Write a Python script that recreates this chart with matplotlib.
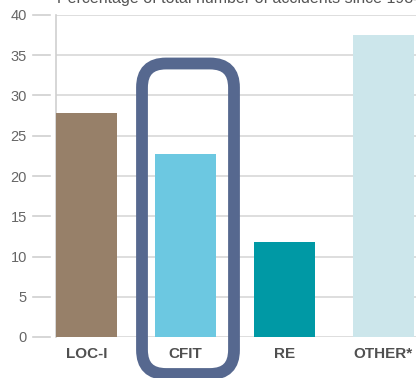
import matplotlib
matplotlib.use("Agg")
import matplotlib.pyplot as plt
from matplotlib.patches import FancyBboxPatch
import matplotlib.transforms as mtransforms

plt.rcParams['font.family'] = ['Liberation Sans', 'DejaVu Sans']

# data
categories = ["LOC-I", "CFIT", "RE", "OTHER*"]
values = [27.8, 22.7, 11.8, 37.5]
colors = ["#978069", "#6cc8e1", "#0099a5", "#cce6eb"]
yticks = [0, 5, 10, 15, 20, 25, 30, 35, 40]
title = "Percentage of total number of accidents since 1984"

W, H = 416, 378
fig = plt.figure(figsize=(W / 100, H / 100), dpi=100)
ax = fig.add_axes([56 / W, 41 / H, (W - 56) / W, 322 / H])

x = range(len(categories))
ax.bar(x, values, width=0.62, color=colors, zorder=3)
ax.set_xlim(-0.31, 3.33)
ax.set_ylim(0, 40)

# grid + spines
ax.set_yticks(yticks)
ax.yaxis.grid(True, color="#d8d8d8", linewidth=1.2, zorder=0)
for s in ["top", "right", "bottom"]:
    ax.spines[s].set_visible(False)
ax.spines["left"].set_color("#cfcfcf")
ax.spines["left"].set_linewidth(1.2)

ax.tick_params(axis="y", length=0, pad=21, labelsize=10.5, labelcolor="#666666")
ax.set_xticks(list(x))
ax.set_xticklabels(categories, fontsize=11, fontweight="bold", color="#505050")
ax.tick_params(axis="x", length=0, pad=7)

# little tick dashes left of the spine
trans = mtransforms.blended_transform_factory(
    mtransforms.Affine2D().translate(56, 0) + mtransforms.IdentityTransform(), ax.transData)
for t in yticks:
    ax.plot([-23, -6], [t, t], transform=trans, color="#d0d0d0", lw=1.2, clip_on=False)

# title cut off at the top, as in the source picture
fig.text(57 / W, (H - 3) / H, title, fontsize=11.5, color="#555555", ha="left", va="baseline")

# rounded highlight box round CFIT
box = FancyBboxPatch((1.52, 0.14), 0.72, 2.905,
                     boxstyle="round,pad=0.1,rounding_size=0.24",
                     transform=fig.dpi_scale_trans, fill=False,
                     edgecolor="#56688f", linewidth=8.5, zorder=10)
fig.add_artist(box)

fig.savefig("out.png", dpi=100)
